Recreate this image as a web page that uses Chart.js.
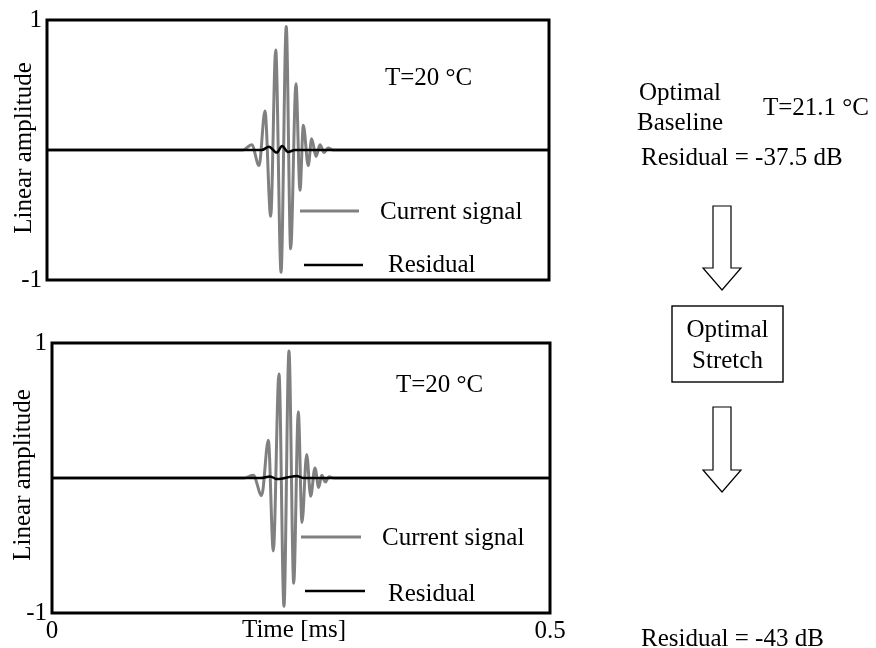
<!DOCTYPE html>
<html>
<head>
<meta charset="utf-8">
<script src="https://cdn.jsdelivr.net/npm/chart.js@4/dist/chart.umd.min.js"></script>
<style>
  html, body { margin: 0; padding: 0; background: #fff; width: 876px; height: 648px; overflow: hidden; }
  canvas { position: absolute; left: 0; }
  #topChart { top: 0; }
  #bottomChart { top: 320px; }
  #flow { position: absolute; left: 0; top: 0; pointer-events: none; }
  #flow text { font-family: "Liberation Serif", "Times New Roman", serif; font-size: 25px; fill: #000; }
</style>
</head>
<body>
<canvas id="topChart" width="580" height="300"></canvas>
<canvas id="bottomChart" width="580" height="328"></canvas>

<svg id="flow" width="876" height="648">
  <text x="680" y="100" text-anchor="middle">Optimal</text>
  <text x="680" y="130" text-anchor="middle">Baseline</text>
  <text x="763" y="115">T=21.1 °C</text>
  <text x="641" y="165">Residual = -37.5 dB</text>
  <polygon points="713,206 731,206 731,268 741,268 722,290 703,268 713,268" fill="#fff" stroke="#000" stroke-width="1.2"/>
  <rect x="672" y="306" width="111" height="76" fill="#fff" stroke="#000" stroke-width="1.4"/>
  <text x="727.5" y="337" text-anchor="middle">Optimal</text>
  <text x="727.5" y="368" text-anchor="middle">Stretch</text>
  <polygon points="713,407 731,407 731,470 741,470 722,492 703,470 713,470" fill="#fff" stroke="#000" stroke-width="1.2"/>
  <text x="641" y="646">Residual = -43 dB</text>
</svg>

<script>
// ---- time axis (ms) and amplitude ticks ----
const timeTicks = [0, 0.5];
const timeTickLabels = ['0', '0.5'];
const ampTicks = [-1, 1];
const ampTickLabels = ['-1', '1'];
const seriesNames = ['Current signal', 'Residual'];
const tempLabels = ['T=20 °C', 'T=20 °C'];
const yTitle = 'Linear amplitude';
const xTitle = 'Time [ms]';

// ---- upper panel: waveform extrema (time in ms, linear amplitude) ----
const topSignalTime = [0, 0.195, 0.2039, 0.2112, 0.2171, 0.2228, 0.2278, 0.2331, 0.2383, 0.2427, 0.2480, 0.2520, 0.2553, 0.2602, 0.2636, 0.2679, 0.2719, 0.2760, 0.2800, 0.2850, 0.5];
const topSignalAmp  = [0, 0, 0.04, -0.12, 0.30, -0.51, 0.77, -0.94, 0.95, -0.76, 0.51, -0.31, 0.19, -0.12, 0.087, -0.05, 0.04, -0.02, 0.015, 0, 0];
const topResidualTime = [0, 0.214, 0.2211, 0.2288, 0.2341, 0.2400, 0.2470, 0.5];
const topResidualAmp  = [0, 0, 0.025, -0.02, 0.03, -0.015, 0, 0];

// ---- lower panel: waveform extrema after stretch ----
const bottomSignalTime = [0, 0.193, 0.2021, 0.2105, 0.2172, 0.2222, 0.2279, 0.2329, 0.2379, 0.2427, 0.2473, 0.2510, 0.2557, 0.2597, 0.2640, 0.2678, 0.2708, 0.2745, 0.2780, 0.2830, 0.5];
const bottomSignalAmp  = [0, 0, 0.02, -0.13, 0.28, -0.54, 0.77, -0.95, 0.94, -0.78, 0.49, -0.33, 0.175, -0.135, 0.075, -0.07, 0.02, -0.03, 0.01, 0, 0];
const bottomResidualTime = [0, 0.210, 0.2189, 0.2260, 0.2456, 0.2520, 0.5];
const bottomResidualAmp  = [0, 0, 0.012, -0.008, 0.015, 0, 0];

const FONT_FAMILY = '"Liberation Serif", "Times New Roman", serif';
const SIGNAL_COLOR = '#808080';
const RESIDUAL_COLOR = '#000000';

function toPoints(xs, ys) {
  return xs.map((x, i) => ({ x: x, y: ys[i] }));
}

// Frame, in-plot legend, temperature note and axis titles
const panelDecor = {
  id: 'panelDecor',
  afterDatasetsDraw(chart, args, opts) {
    const { ctx, chartArea: a } = chart;
    ctx.save();
    ctx.strokeStyle = '#000';
    ctx.lineWidth = 3;
    ctx.strokeRect(a.left, a.top, a.right - a.left, a.bottom - a.top);

    ctx.font = '25px ' + FONT_FAMILY;
    ctx.fillStyle = '#000';
    ctx.textBaseline = 'alphabetic';
    ctx.textAlign = 'left';
    ctx.fillText(opts.temp.text, opts.temp.x, opts.temp.y);

    opts.legend.forEach((item, i) => {
      const ds = chart.data.datasets[i];
      ctx.strokeStyle = ds.borderColor;
      ctx.lineWidth = ds.borderWidth;
      ctx.beginPath();
      ctx.moveTo(item.x1, item.y);
      ctx.lineTo(item.x2, item.y);
      ctx.stroke();
      ctx.fillStyle = '#000';
      ctx.fillText(ds.label, item.tx, item.ty);
    });

    // rotated y-axis title
    ctx.save();
    ctx.translate(opts.yTitle.x, opts.yTitle.y);
    ctx.rotate(-Math.PI / 2);
    ctx.textAlign = 'center';
    ctx.textBaseline = 'middle';
    ctx.fillText(yTitle, 0, 0);
    ctx.restore();

    if (opts.xTitle) {
      ctx.textAlign = 'center';
      ctx.fillText(xTitle, opts.xTitle.x, opts.xTitle.y);
    }
    ctx.restore();
  }
};

function makeChart(id, signal, residual, cfg) {
  return new Chart(document.getElementById(id), {
    type: 'line',
    data: {
      datasets: [
        {
          label: seriesNames[0],
          data: signal,
          borderColor: SIGNAL_COLOR,
          borderWidth: 3,
          pointRadius: 0,
          tension: 0.4,
          cubicInterpolationMode: 'monotone',
          order: 2
        },
        {
          label: seriesNames[1],
          data: residual,
          borderColor: RESIDUAL_COLOR,
          borderWidth: 2.5,
          pointRadius: 0,
          tension: 0.4,
          cubicInterpolationMode: 'monotone',
          order: 1
        }
      ]
    },
    options: {
      responsive: false,
      animation: false,
      devicePixelRatio: 1,
      layout: { padding: cfg.padding },
      scales: {
        x: {
          type: 'linear',
          min: 0,
          max: 0.5,
          display: cfg.showX,
          grid: { display: false, drawTicks: false, tickLength: 0 },
          border: { display: false },
          afterBuildTicks(scale) { scale.ticks = timeTicks.map(v => ({ value: v })); },
          afterFit(scale) { scale.height = cfg.xHeight || 0; },
          ticks: {
            font: { family: FONT_FAMILY, size: 25 },
            color: '#000',
            padding: 3,
            maxRotation: 0,
            autoSkip: false,
            callback(v) { return timeTickLabels[timeTicks.indexOf(v)]; }
          }
        },
        y: {
          type: 'linear',
          min: -1,
          max: 1,
          grid: { display: false, drawTicks: false, tickLength: 0 },
          border: { display: false },
          afterBuildTicks(scale) { scale.ticks = ampTicks.map(v => ({ value: v })); },
          afterFit(scale) { scale.width = cfg.yWidth; },
          ticks: {
            font: { family: FONT_FAMILY, size: 25 },
            color: '#000',
            padding: 5,
            autoSkip: false,
            callback(v) { return ampTickLabels[ampTicks.indexOf(v)]; }
          }
        }
      },
      plugins: {
        legend: { display: false },
        tooltip: { enabled: false },
        panelDecor: cfg.decor
      }
    },
    plugins: [panelDecor]
  });
}

makeChart('topChart',
  toPoints(topSignalTime, topSignalAmp),
  toPoints(topResidualTime, topResidualAmp),
  {
    padding: { top: 15, right: 31, bottom: 15, left: 0 },
    showX: false,
    yWidth: 47,
    decor: {
      temp: { text: tempLabels[0], x: 385, y: 85 },
      legend: [
        { x1: 300, x2: 359, y: 211, tx: 380, ty: 219 },
        { x1: 304, x2: 363, y: 265, tx: 388, ty: 272 }
      ],
      yTitle: { x: 24, y: 148 }
    }
  });

makeChart('bottomChart',
  toPoints(bottomSignalTime, bottomSignalAmp),
  toPoints(bottomResidualTime, bottomResidualAmp),
  {
    padding: { top: 23, right: 30, bottom: 0, left: 0 },
    showX: true,
    xHeight: 35,
    yWidth: 52,
    decor: {
      temp: { text: tempLabels[1], x: 396, y: 72 },
      legend: [
        { x1: 301, x2: 361, y: 217, tx: 382, ty: 225 },
        { x1: 305, x2: 365, y: 271, tx: 388, ty: 281 }
      ],
      yTitle: { x: 23, y: 155 },
      xTitle: { x: 294, y: 317 }
    }
  });
</script>
</body>
</html>
